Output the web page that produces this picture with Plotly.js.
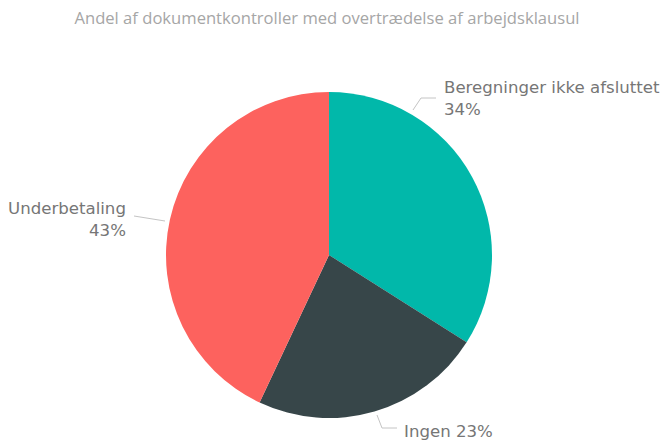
<!DOCTYPE html>
<html>
<head>
<meta charset="utf-8">
<script src="https://cdn.plot.ly/plotly-3.0.1.min.js"></script>
<style>html,body{margin:0;padding:0;background:#fff;}#chart{width:667px;height:440px;}</style>
</head>
<body>
<div id="chart"></div>
<script>
const categories = ["Beregninger ikke afsluttet", "Ingen", "Underbetaling"];
const shares = [34, 23, 43];
const labelTexts = ["Beregninger ikke afsluttet<br>34%", "Ingen 23%", "Underbetaling<br>43%"];
const colors = ["#01B8AA", "#374649", "#FD625E"];

const W = 667, H = 440;
const px = x => x / W;
const py = y => 1 - y / H;

const labelLayout = [
  {x: 442, y: 99, xanchor: "left", align: "left", line: [[413,110],[421,98],[436,98]]},
  {x: 402, y: 431, xanchor: "left", align: "left", line: [[377,415],[382,428],[397,428]]},
  {x: 128, y: 219, xanchor: "right", align: "right", line: [[134,216],[165,221]]}
];

const annotations = labelTexts.map((t, i) => ({
  text: t, xref: "paper", yref: "paper",
  x: px(labelLayout[i].x), y: py(labelLayout[i].y),
  xanchor: labelLayout[i].xanchor, yanchor: "middle", align: labelLayout[i].align,
  showarrow: false,
  font: {family: "DejaVu Sans, sans-serif", size: 16.6, color: "#767676"}
}));

const shapes = labelLayout.map(l => ({
  type: "path", xref: "paper", yref: "paper",
  path: l.line.map((p, j) => (j ? "L" : "M") + px(p[0]) + "," + py(p[1])).join(" "),
  line: {color: "#c4c4c4", width: 1}
}));

const cx = 329, cy = 255, r = 163;
const data = [{
  type: "pie",
  labels: categories,
  values: shares,
  marker: {colors: colors, line: {width: 0}},
  sort: false,
  direction: "clockwise",
  rotation: 0,
  textinfo: "none",
  hoverinfo: "label+percent",
  domain: {x: [px(cx - r), px(cx + r)], y: [py(cy + r), py(cy - r)]}
}];

const layout = {
  width: W, height: H,
  margin: {l: 0, r: 0, t: 0, b: 0},
  paper_bgcolor: "#ffffff",
  showlegend: false,
  title: {
    text: "Andel af dokumentkontroller med overtrædelse af arbejdsklausul",
    x: px(327), xanchor: "center", y: py(18), yanchor: "middle",
    font: {family: "Open Sans, sans-serif", size: 16.6, color: "#a6a6a6"}
  },
  annotations: annotations,
  shapes: shapes
};

Plotly.newPlot("chart", data, layout, {displayModeBar: false, staticPlot: true});
</script>
</body>
</html>
